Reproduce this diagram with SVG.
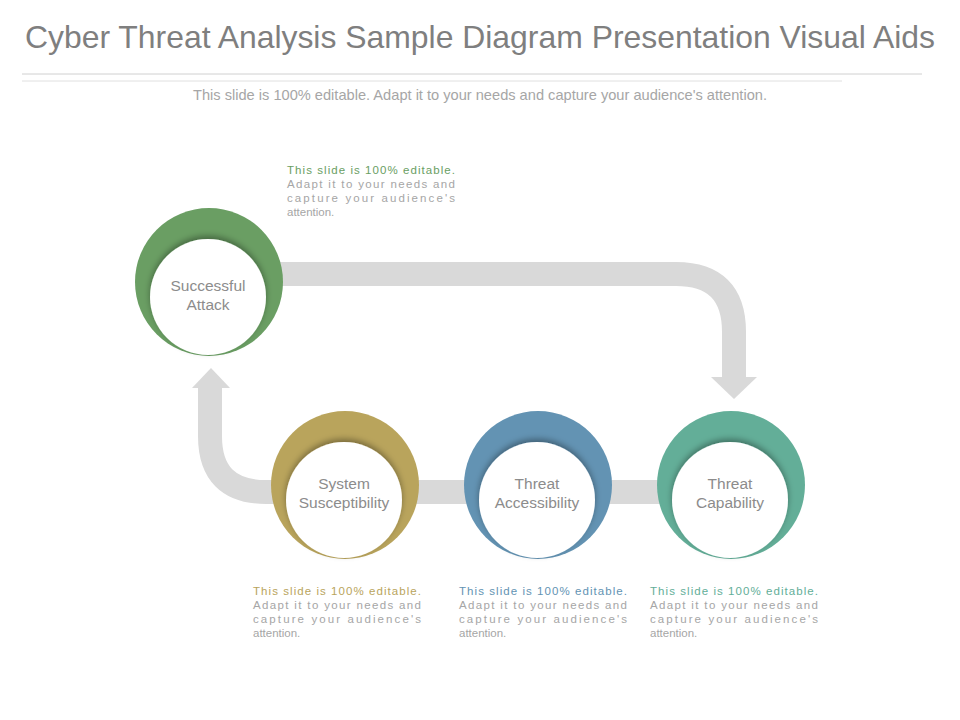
<svg xmlns="http://www.w3.org/2000/svg" width="960" height="720" viewBox="0 0 960 720">
<style>
text{font-family:"Liberation Sans",Arial,sans-serif}
.t{font-size:32px;fill:#7f7f7f}
.sub{font-size:14.5px;fill:#a6a6a6}
.lbl{font-size:15.5px;fill:#8c8c8c}
.d{font-size:11.5px;fill:#a6a6a6}
.band{fill:none;stroke:#d9d9d9;stroke-width:24}
.head{fill:#d9d9d9}
.inner{fill:#fff;filter:url(#sh)}
</style>
<defs>
<filter id="sh" x="-30%" y="-30%" width="160%" height="160%">
<feDropShadow dx="0" dy="-3" stdDeviation="3" flood-color="#000" flood-opacity="0.35"/>
</filter>
</defs>
<rect width="960" height="720" fill="#fff"/>
<text class="t" x="480" y="48" text-anchor="middle" textLength="910" lengthAdjust="spacingAndGlyphs">Cyber Threat Analysis Sample Diagram Presentation Visual Aids</text>
<line x1="22" y1="74" x2="922" y2="74" stroke="#d0d0d0"/>
<line x1="22" y1="81" x2="842" y2="81" stroke="#e0e0e0"/>
<text class="sub" x="480" y="100" text-anchor="middle" textLength="574" lengthAdjust="spacingAndGlyphs">This slide is 100% editable. Adapt it to your needs and capture your audience's attention.</text>
<g id="connectors">
<path class="band" d="M280,274 H676 Q734,274 734,332 V378"/>
<polygon class="head" points="711,377 757,377 734,399"/>
<path class="band" d="M700,492 H266 Q210,492 210,436 V387"/>
<polygon class="head" points="192,388 230,388 211,368"/>
</g>
<g id="successful-attack">
<circle cx="209" cy="282" r="74" fill="#6a9e63"/>
<circle class="inner" cx="208" cy="297" r="58"/>
<text class="lbl" x="208" y="291" text-anchor="middle">Successful</text>
<text class="lbl" x="208" y="310" text-anchor="middle">Attack</text>
</g>
<g id="system-susceptibility">
<circle cx="345" cy="485" r="74" fill="#b9a45c"/>
<circle class="inner" cx="344" cy="500" r="58"/>
<text class="lbl" x="344" y="489" text-anchor="middle">System</text>
<text class="lbl" x="344" y="508" text-anchor="middle">Susceptibility</text>
</g>
<g id="threat-accessibility">
<circle cx="538" cy="485" r="74" fill="#6393b3"/>
<circle class="inner" cx="537" cy="500" r="58"/>
<text class="lbl" x="537" y="489" text-anchor="middle">Threat</text>
<text class="lbl" x="537" y="508" text-anchor="middle">Accessibility</text>
</g>
<g id="threat-capability">
<circle cx="731" cy="485" r="74" fill="#63ae98"/>
<circle class="inner" cx="730" cy="500" r="58"/>
<text class="lbl" x="730" y="489" text-anchor="middle">Threat</text>
<text class="lbl" x="730" y="508" text-anchor="middle">Capability</text>
</g>
<g id="desc-top">
<text class="d" x="287" y="174" textLength="168" lengthAdjust="spacing" style="fill:#6a9e63">This slide is 100% editable.</text>
<text class="d" x="287" y="188" textLength="168" lengthAdjust="spacing">Adapt it to your needs and</text>
<text class="d" x="287" y="202" textLength="168" lengthAdjust="spacing">capture your audience's</text>
<text class="d" x="287" y="216">attention.</text>
</g>
<g id="desc-1">
<text class="d" x="253" y="595" textLength="168" lengthAdjust="spacing" style="fill:#b9a45c">This slide is 100% editable.</text>
<text class="d" x="253" y="609" textLength="168" lengthAdjust="spacing">Adapt it to your needs and</text>
<text class="d" x="253" y="623" textLength="168" lengthAdjust="spacing">capture your audience's</text>
<text class="d" x="253" y="637">attention.</text>
</g>
<g id="desc-2">
<text class="d" x="459" y="595" textLength="168" lengthAdjust="spacing" style="fill:#6393b3">This slide is 100% editable.</text>
<text class="d" x="459" y="609" textLength="168" lengthAdjust="spacing">Adapt it to your needs and</text>
<text class="d" x="459" y="623" textLength="168" lengthAdjust="spacing">capture your audience's</text>
<text class="d" x="459" y="637">attention.</text>
</g>
<g id="desc-3">
<text class="d" x="650" y="595" textLength="168" lengthAdjust="spacing" style="fill:#63ae98">This slide is 100% editable.</text>
<text class="d" x="650" y="609" textLength="168" lengthAdjust="spacing">Adapt it to your needs and</text>
<text class="d" x="650" y="623" textLength="168" lengthAdjust="spacing">capture your audience's</text>
<text class="d" x="650" y="637">attention.</text>
</g>
</svg>
